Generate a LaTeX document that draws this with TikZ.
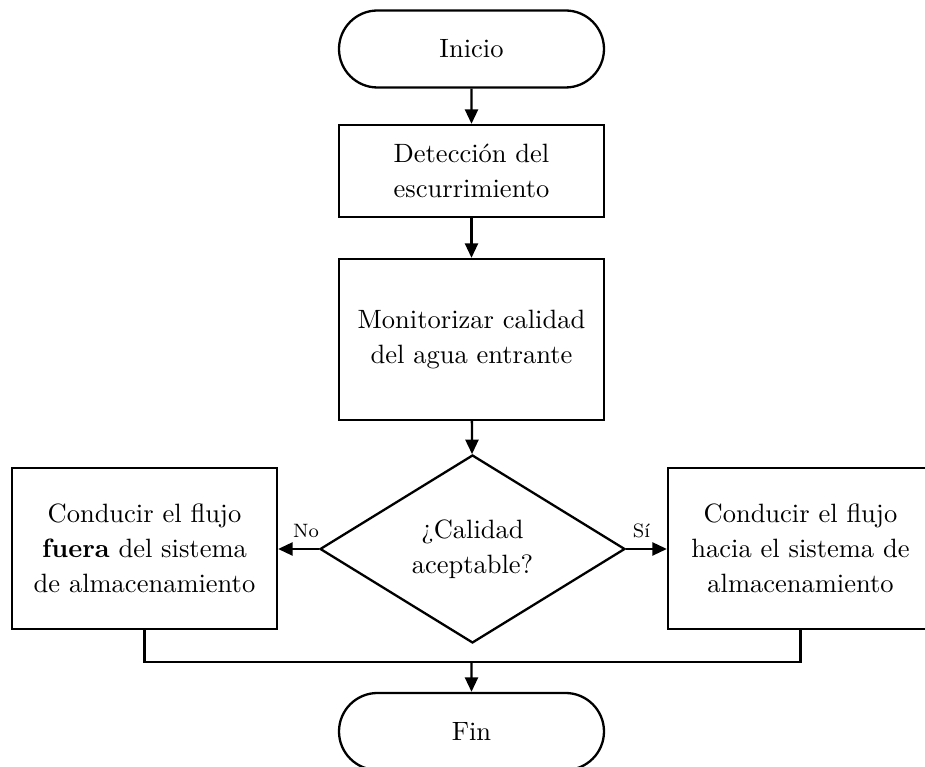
\documentclass[tikz,border=0pt]{standalone}
\usepackage{fontspec}
\usetikzlibrary{shapes.geometric,shapes.misc,arrows.meta}
\begin{document}
\begin{tikzpicture}[x=0.4132pt,y=-0.4132pt,
  every node/.style={font=\fontsize{10.95}{14.5}\selectfont},
  base/.style={draw,line width=0.95pt,align=center,inner sep=0pt},
  terminal/.style={base,rounded rectangle,minimum width={265*0.4132pt},minimum height={77*0.4132pt}},
  procbox/.style={base,rectangle,minimum width={265*0.4132pt}},
  decision/.style={base,diamond,aspect=1.62,minimum width={305*0.4132pt},minimum height={188*0.4132pt}},
  conn/.style={line width=0.95pt,-{Triangle[length=6pt,width=5.4pt]}},
  plainline/.style={line width=0.95pt},
  lbl/.style={font=\fontsize{8}{9.5}\selectfont,inner sep=0pt,anchor=base}
]
\clip (0,0) rectangle (925,767);

\node[terminal] (inicio) at (471.5,49) {Inicio};
\node[procbox,minimum height={92*0.4132pt}] (det) at (471.5,171) {Detección del\\escurrimiento};
\node[procbox,minimum height={161*0.4132pt}] (mon) at (471.5,339.5) {Monitorizar calidad\\del agua entrante};
\node[decision] (dec) at (472.5,549) {¿Calidad\\aceptable?};
\node[procbox,minimum height={161*0.4132pt}] (left) at (144.5,548.5) {Conducir el flujo\\\textbf{fuera} del sistema\\de almacenamiento};
\node[procbox,minimum height={161*0.4132pt}] (right) at (800.5,548.5) {Conducir el flujo\\hacia el sistema de\\almacenamiento};
\node[terminal] (fin) at (471.5,731.5) {Fin};

\node[lbl] (no) at (306,538) {No};
\node[lbl] (si) at (641.5,538) {Sí};

\coordinate (m) at (471.5,662);

\draw[conn] (inicio) -- (det);
\draw[conn] (det) -- (mon);
\draw[conn] (mon) -- (dec);
\draw[conn] (dec.west) -- (dec.west -| left.east);
\draw[conn] (dec.east) -- (dec.east -| right.west);
\draw[plainline] (left.south) |- (m) -| (right.south);
\draw[conn] (m) -- (fin);
\end{tikzpicture}
\end{document}
